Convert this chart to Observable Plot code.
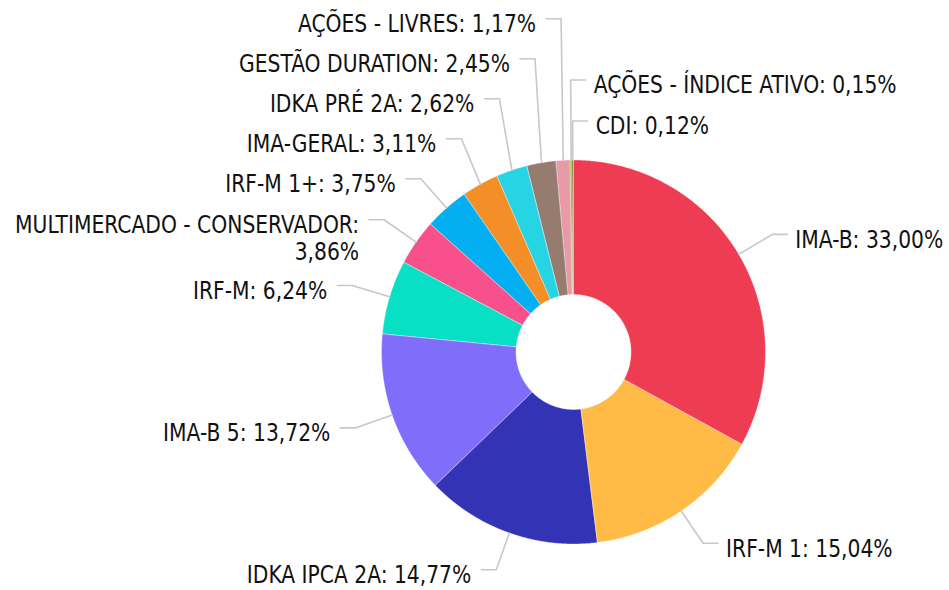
<!DOCTYPE html>
<html><head><meta charset="utf-8">
<script src="https://cdn.jsdelivr.net/npm/d3@7"></script>
<script src="https://cdn.jsdelivr.net/npm/@observablehq/plot@0.6"></script>
<style>html,body{margin:0;padding:0;background:#fff;}</style>
</head><body><div id="chart"></div>
<script>
const categories = ["IMA-B","IRF-M 1","IDKA IPCA 2A","IMA-B 5","IRF-M","MULTIMERCADO - CONSERVADOR","IRF-M 1+","IMA-GERAL","IDKA PRÉ 2A","GESTÃO DURATION","AÇÕES - LIVRES","AÇÕES - ÍNDICE ATIVO","CDI"];
const values = [33.00,15.04,14.77,13.72,6.24,3.86,3.75,3.11,2.62,2.45,1.17,0.15,0.12];
const colors = ["#ee3d53","#ffbb45","#3333b5","#806efa","#08e0c6","#f7508a","#03aff0","#f48e26","#26d4e3","#957c6e","#e89aa6","#6cb52a","#8a7a1f"];

const W = 949, H = 590;
const cx = 573, cy = 351.5, rOuter = 192, rInner = 57.5, rLabel = 231, tickLen = 15, spacing = 40;

// font: DejaVu Sans Condensed, horizontally compressed to the reference's narrow face
const fontFamily = "'DejaVu Sans Condensed', 'DejaVu Sans', sans-serif";
const fontSize = 25;
const cnv = document.createElement("canvas").getContext("2d");
cnv.font = `${fontSize}px ${fontFamily}`;
const wRef = cnv.measureText("IMA-B: 33,00%").width;
const sx = Math.min(1, 148 / wRef);

const fmt = v => v.toFixed(2).replace(".", ",") + "%";
const arcs = d3.pie().sort(null).value(d => d)(values);
const px = (r, a) => cx + r * Math.sin(a);
const py = (r, a) => cy - r * Math.cos(a);

const slicePts = [];
arcs.forEach((a, i) => {
  const n = Math.max(2, Math.ceil((a.endAngle - a.startAngle) / (Math.PI / 360)));
  for (let k = 0; k <= n; k++) {
    const t = a.startAngle + (a.endAngle - a.startAngle) * k / n;
    slicePts.push({key: i, x: px(rOuter, t), y: py(rOuter, t), color: colors[i]});
  }
  for (let k = n; k >= 0; k--) {
    const t = a.startAngle + (a.endAngle - a.startAngle) * k / n;
    slicePts.push({key: i, x: px(rInner, t), y: py(rInner, t), color: colors[i]});
  }
});

const labels = arcs.map((a, i) => {
  const m = (a.startAngle + a.endAngle) / 2;
  const bx = px(rLabel, m), by = py(rLabel, m);
  const side = bx < cx - 4 ? "left" : "right";
  const name = categories[i];
  const text = name.length > 20 ? `${name}:\n${fmt(values[i])}` : `${name}: ${fmt(values[i])}`;
  return {i, m, norm: m > Math.PI ? m - 2 * Math.PI : m, side, sx: px(rOuter, m), sy: py(rOuter, m), bx, y: by, text};
});
const right = labels.filter(l => l.side === "right").sort((a, b) => a.norm - b.norm);
for (let k = right.length - 2; k >= 0; k--) right[k].y = Math.min(right[k].y, right[k + 1].y - spacing - 1);
const left = labels.filter(l => l.side === "left").sort((a, b) => a.m - b.m);
for (let k = 1; k < left.length; k++) left[k].y = Math.min(left[k].y, left[k - 1].y - spacing);

const tickPts = [];
labels.forEach(l => {
  const s = l.side === "left" ? -1 : 1;
  tickPts.push({key: l.i, x: l.sx, y: l.sy});
  tickPts.push({key: l.i, x: l.bx, y: l.y});
  tickPts.push({key: l.i, x: l.bx + s * tickLen, y: l.y});
  l.tx = l.bx + s * (tickLen + (s < 0 ? 10 : 8));
});

const chart = Plot.plot({
  width: W, height: H, margin: 0,
  style: {background: "#fff"},
  x: {domain: [0, W], range: [0, W], axis: null},
  y: {domain: [0, H], range: [0, H], axis: null},
  color: {type: "identity"},
  marks: [
    Plot.line(slicePts, {x: "x", y: "y", z: "key", fill: "color", stroke: "#fff", strokeWidth: 0.5, strokeOpacity: 0.7, curve: "linear-closed"}),
    Plot.line(tickPts, {x: "x", y: "y", z: "key", stroke: "#c8c8c8", strokeWidth: 1.6}),
    Plot.text(left, {x: "tx", y: "y", text: "text", textAnchor: "end", lineAnchor: "top", dy: -5.5, fontSize, fontFamily, fill: "#111", lineHeight: 1.06}),
    Plot.text(right, {x: "tx", y: "y", text: "text", textAnchor: "start", lineAnchor: "top", dy: -5.5, fontSize, fontFamily, fill: "#111", lineHeight: 1.06})
  ]
});
// compress label glyphs horizontally around their anchor points
d3.select(chart).selectAll("text").each(function() {
  const t = this.getAttribute("transform");
  if (t) this.setAttribute("transform", `${t} scale(${sx},1)`);
});
document.getElementById("chart").appendChild(chart);
</script>
</body></html>
